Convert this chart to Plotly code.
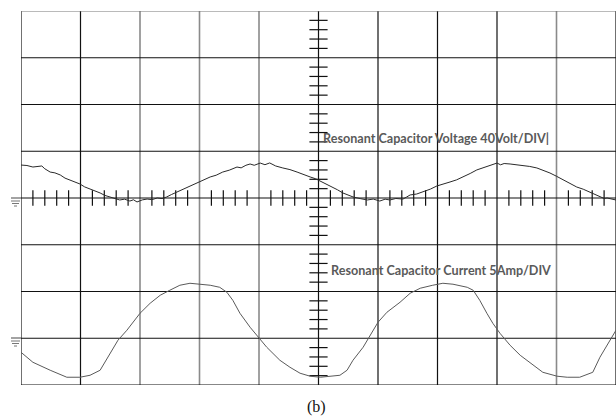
import plotly.graph_objects as go

# ---- data (time in divisions, voltage in V, current in A) ----
time_v = [0.00,0.10,0.20,0.28,0.35,0.40,0.49,0.57,0.66,0.74,0.82,0.90,0.99,1.07,1.16,1.24,1.33,1.41,1.50,1.58,
          1.66,1.74,1.83,1.89,1.95,2.04,2.12,2.20,2.29,2.37,2.45,2.53,2.62,2.70,2.79,2.90,3.01,3.10,3.18,3.28,
          3.39,3.50,3.63,3.70,3.78,3.85,3.92,4.02,4.10,4.18,4.28,4.40,4.52,4.64,4.75,4.86,4.95,5.03,5.13,5.24,
          5.32,5.41,5.50,5.58,5.70,5.82,5.92,6.03,6.12,6.20,6.30,6.42,6.48,6.54,6.65,6.76,6.88,6.99,7.10,7.21,
          7.32,7.43,7.55,7.66,7.77,7.88,7.94,8.00,8.06,8.12,8.22,8.33,8.44,8.55,8.67,8.78,8.89,9.00,9.11,9.22,
          9.34,9.45,9.56,9.65,9.73,9.80,9.85,9.92,10.00]
voltage = [28.2,27.8,26.5,27.0,27.4,25.0,22.2,21.5,19.7,17.0,15.4,14.0,12.0,9.5,7.7,6.4,4.3,2.2,0.9,-0.6,
           -1.7,-1.0,-2.6,-1.5,-3.4,-1.6,-0.9,-1.4,0.0,-0.5,0.9,3.0,5.1,6.4,8.6,11.5,13.7,15.8,18.0,19.5,
           22.2,23.8,26.5,25.8,28.0,29.1,28.0,29.9,28.5,30.0,27.4,25.7,24.3,22.2,19.8,18.0,16.5,14.5,12.3,9.4,
           7.0,4.3,2.6,0.9,-0.5,-1.7,-0.9,-2.6,-1.0,-1.7,-0.4,-0.9,0.8,2.6,3.4,5.1,7.6,10.3,11.8,13.7,
           15.5,18.0,21.0,24.0,25.8,28.2,28.9,29.9,28.4,29.5,29.1,28.5,28.2,27.0,25.7,23.6,21.4,18.6,15.4,12.3,
           9.4,7.5,5.1,3.0,1.7,-0.4,0.0,-0.9,-1.7]

time_i = [0.00,0.20,0.49,0.77,0.99,1.16,1.33,1.38,1.50,1.63,1.78,2.00,2.17,2.34,2.50,2.67,2.84,3.01,3.18,3.34,
          3.46,3.56,3.68,3.85,4.00,4.13,4.35,4.52,4.69,4.86,5.03,5.24,5.36,5.48,5.58,5.75,5.87,6.00,6.15,6.37,
          6.54,6.71,6.92,7.09,7.26,7.50,7.60,7.71,7.83,7.93,8.05,8.22,8.39,8.61,8.77,9.01,9.18,9.39,9.61,9.73,
          9.85,10.00]
current = [-1.50,-2.57,-3.42,-4.17,-4.17,-3.96,-3.42,-2.89,-1.50,-0.21,0.86,2.67,3.74,4.60,5.13,5.67,5.88,5.78,5.67,5.45,
           4.92,4.06,2.67,1.18,0.00,-0.96,-2.35,-3.10,-3.74,-4.06,-4.17,-4.06,-3.96,-3.42,-2.35,-0.96,0.32,1.71,2.78,3.85,
           4.81,5.35,5.67,5.88,5.78,5.45,5.13,4.06,2.67,1.60,0.53,-0.75,-1.82,-2.89,-3.64,-4.06,-4.17,-4.17,-3.64,-2.03,
           -0.75,0.86]

volt_per_div = 40
amp_per_div = 5
current_offset_div = -3
label_v = "Resonant Capacitor Voltage 40Volt/DIV|"
label_i = "Resonant Capacitor Current 5Amp/DIV"
caption = "(b)"

W, H = 616, 417
ML, MR, MT, MB = 21, 0, 11, 32
PW, PH = W - ML - MR, H - MT - MB

fig = go.Figure()

# grid
gray_cols = {2, 3, 4, 9}
shapes = []
for i in range(0, 11):
    shapes.append(dict(type="line", xref="x", yref="y", x0=i, x1=i, y0=-4, y1=4,
                       line=dict(color="#8a8a8a" if i in gray_cols else "#111111",
                                 width=1.6 if i in gray_cols else 1.2), layer="below"))
for j in range(-4, 5):
    shapes.append(dict(type="line", xref="x", yref="y", x0=0, x1=10, y0=j, y1=j,
                       line=dict(color="#777777" if j == 4 else "#111111", width=1.2), layer="below"))

def px2paper(px, py):
    return (px - ML) / PW, (H - MB - py) / PH

# ground symbols
for gy in (198, 338):
    x0, y0 = px2paper(11, gy)
    x1, _ = px2paper(21, gy)
    shapes.append(dict(type="line", xref="paper", yref="paper", x0=x0, x1=x1, y0=y0, y1=y0,
                       line=dict(color="#666666", width=1.2)))
    for k, (a, b) in enumerate([(11, 20), (12, 19), (14, 17)]):
        xa, ya = px2paper(a, gy + 3 + 2.5 * k)
        xb, _ = px2paper(b, gy + 3 + 2.5 * k)
        shapes.append(dict(type="line", xref="paper", yref="paper", x0=xa, x1=xb, y0=ya, y1=ya,
                           line=dict(color="#777777", width=1)))

# center axis ticks
tx = [k / 5 for k in range(0, 51) if k % 5 != 0]
ty = [k / 5 - 4 for k in range(0, 41) if k % 5 != 0]
fig.add_trace(go.Scatter(x=tx, y=[0] * len(tx), mode="markers", hoverinfo="skip",
                         marker=dict(symbol="line-ns", size=11, line=dict(color="#111111", width=1.2))))
fig.add_trace(go.Scatter(x=[5] * len(ty), y=ty, mode="markers", hoverinfo="skip",
                         marker=dict(symbol="line-ew", size=13, line=dict(color="#111111", width=1.2))))

# waveforms
fig.add_trace(go.Scatter(x=time_v, y=[v / volt_per_div for v in voltage], mode="lines",
                         line=dict(color="#2a2a2a", width=1)))
fig.add_trace(go.Scatter(x=time_i, y=[c / amp_per_div + current_offset_div for c in current], mode="lines",
                         line=dict(color="#5a5a5a", width=1)))

annotations = [
    dict(x=5.05, y=(198 - 138) / 46.75, xref="x", yref="y", text=label_v, showarrow=False,
         xanchor="left", yanchor="middle", font=dict(family="Lato", size=12.6, color="#5a5a5a", weight="bold")),
    dict(x=5.17, y=(198 - 270) / 46.75, xref="x", yref="y", text=label_i, showarrow=False,
         xanchor="left", yanchor="middle", font=dict(family="Lato", size=12.6, color="#5a5a5a", weight="bold")),
    dict(x=px2paper(316, 407)[0], y=px2paper(316, 407)[1], xref="paper", yref="paper", text=caption,
         showarrow=False, xanchor="center", yanchor="middle",
         font=dict(family="Liberation Serif", size=16, color="#111111")),
]

fig.update_layout(
    width=W, height=H, margin=dict(l=ML, r=MR, t=MT, b=MB),
    paper_bgcolor="white", plot_bgcolor="white", showlegend=False,
    xaxis=dict(range=[0, 10], showgrid=False, zeroline=False, showticklabels=False, visible=False),
    yaxis=dict(range=[-4, 4], showgrid=False, zeroline=False, showticklabels=False, visible=False),
    shapes=shapes, annotations=annotations,
)
fig.write_html("out.html", config={"displayModeBar": False},
               post_script="document.body.style.margin='0';document.body.style.overflow='hidden';")
